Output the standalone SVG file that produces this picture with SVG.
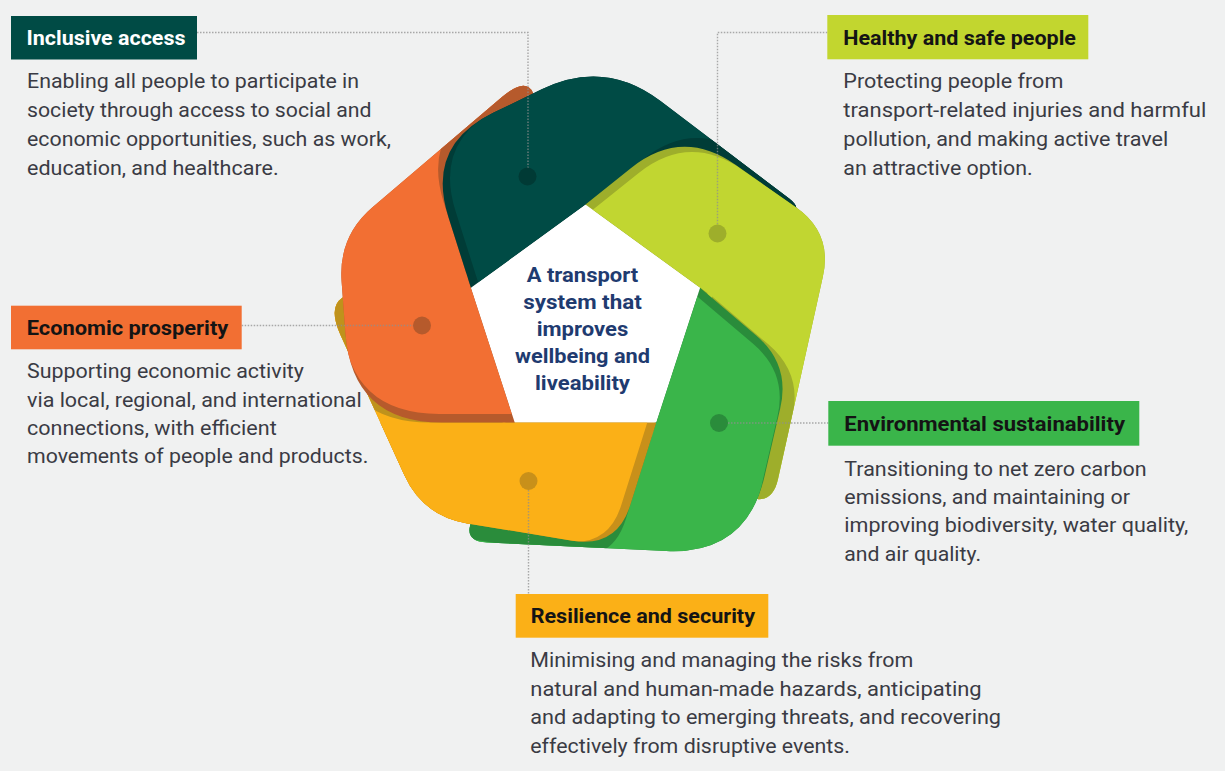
<svg xmlns="http://www.w3.org/2000/svg" width="1225" height="771" viewBox="0 0 1225 771">
<style>
.body{font-family:Roboto,"Liberation Sans",sans-serif;font-size:20px;fill:#3a3b44;}
.title{font-family:Roboto,"Liberation Sans",sans-serif;font-size:20px;font-weight:700;fill:#141414;}
.tw{fill:#ffffff;}
.center{font-family:Roboto,"Liberation Sans",sans-serif;font-size:20.5px;font-weight:700;fill:#1f3b70;text-anchor:middle;}
.conn{fill:none;stroke:#8f8f8f;stroke-width:1.4;stroke-dasharray:1.5 1.5;opacity:0.75;}
</style>
<defs>
<path id="s0" d="M470.9,287.8 L448.4,217.1 Q425.7,145.6 493.2,112.8 L541.7,89.3 Q604.7,58.7 660.5,101 L789.1,198.5 Q805,210.6 786.5,218.1 L720,245 L585.5,204.5 Z"/>
<path id="s1" d="M585.5,204.5 L631.1,168 Q681.9,127.4 735.1,164.6 L795.7,206.9 Q832.6,232.7 822.9,276.6 L778.1,478.7 Q771.6,508 744.4,495.3 L690,470 L700.1,287.8 Z"/>
<path id="s2" d="M700.1,287.8 L756.2,335.5 Q790.5,364.7 780.2,408.5 L764.4,476.9 Q746.2,554.8 666.3,551 L487,542.5 Q462,541.3 472.6,518.7 L500,460 L656.3,422.5 Z"/>
<path id="s3" d="M656.3,422.5 L630.3,505.1 Q616.8,548 572.4,540.7 L467.3,523.4 Q422.9,516.1 404.3,475.1 L340.7,335.5 Q320,290 369.9,293.1 L400,295 L514.7,422.5 Z"/>
<path id="s4" d="M514.7,422.5 L442,422.5 Q352,422.5 345.4,332.7 L341.6,281.4 Q338.3,236.5 372.5,207.3 L501.7,97.2 Q536,68 536,113 L536,180 L470.9,287.8 Z"/>
<clipPath id="c0"><use href="#s0"/></clipPath>
<clipPath id="c1"><use href="#s1"/></clipPath>
<clipPath id="c2"><use href="#s2"/></clipPath>
<clipPath id="c3"><use href="#s3"/></clipPath>
<clipPath id="c4"><use href="#s4"/></clipPath>
<clipPath id="cLow"><rect x="0" y="423" width="1225" height="348"/></clipPath>
</defs>
<rect width="1225" height="771" fill="#f0f1f1"/>
<g id="wheel">
<path id="hub" d="M585.5,204.5 L700.1,287.8 L656.3,422.5 L514.7,422.5 L470.9,287.8 Z" fill="#ffffff"/>
<g id="seg-resilience">
<use href="#s3" fill="#c8901a"/>
<g clip-path="url(#c3)">
<use href="#s3" fill="#fbb017" transform="translate(-9,0)"/>
<use href="#s4" fill="#bf921c" transform="translate(-12,0)"/>
</g>
</g>
<g id="seg-economic">
<use href="#s4" fill="#b65a2c"/>
<g clip-path="url(#c4)">
<use href="#s4" fill="#f26f33" transform="translate(-2.8,-8.6)"/>
<use href="#s0" fill="#b65a2c" transform="translate(-4.6,-14.3)"/>
</g>
</g>
<g id="seg-inclusive">
<use href="#s0" fill="#003c37"/>
<g clip-path="url(#c0)">
<use href="#s0" fill="#004b45" transform="translate(7.3,-5.3)"/>
<use href="#s1" fill="#003c37" transform="translate(12.1,-8.8)"/>
</g>
</g>
<g id="seg-healthy">
<use href="#s1" fill="#9eae2b"/>
<g clip-path="url(#c1)">
<use href="#s1" fill="#c1d631" transform="translate(7.3,5.3)"/>
<use href="#s2" fill="#9eae2b" transform="translate(12.1,8.8)"/>
</g>
</g>
<g id="seg-environmental">
<use href="#s2" fill="#2a8c3b"/>
<g clip-path="url(#c2)">
<use href="#s2" fill="#3ab54a" transform="translate(-2.8,8.6)"/>
<use href="#s3" fill="#2a8c3b" transform="translate(-4.6,14.3)"/>
</g>
</g>
<g id="seg-resilience-top" clip-path="url(#cLow)">
<use href="#s3" fill="#c8901a"/>
<g clip-path="url(#c3)">
<use href="#s3" fill="#fbb017" transform="translate(-9,0)"/>
</g>
</g>
</g>
<g id="connectors">
<path class="conn" d="M197,32.5 H528 V176.5"/>
<path class="conn" d="M827.3,32.5 H717.5 V233.5"/>
<path class="conn" d="M241.7,325.5 H422"/>
<path class="conn" d="M719,423 H828.3"/>
<path class="conn" d="M528.5,481 V594"/>
<circle cx="527.5" cy="176.5" r="9" fill="#003a35"/>
<circle cx="717.5" cy="233.5" r="9" fill="#9eae2b"/>
<circle cx="422" cy="325.5" r="9" fill="#b65a2c"/>
<circle cx="719" cy="423" r="9" fill="#2a8c3b"/>
<circle cx="528.5" cy="481" r="9" fill="#c8901a"/>
</g>
<g id="node-center">
<text class="center" x="582.5" y="281.5" textLength="111.6" lengthAdjust="spacingAndGlyphs">A transport</text>
<text class="center" x="582.5" y="308.5" textLength="118.7" lengthAdjust="spacingAndGlyphs">system that</text>
<text class="center" x="582.5" y="335.5" textLength="91.6" lengthAdjust="spacingAndGlyphs">improves</text>
<text class="center" x="582.5" y="362.5" textLength="135" lengthAdjust="spacingAndGlyphs">wellbeing and</text>
<text class="center" x="582.5" y="389.5" textLength="95" lengthAdjust="spacingAndGlyphs">liveability</text>
</g>
<g id="node-inclusive">
<rect x="11" y="16" width="186" height="43.5" fill="#004b45"/>
<text class="title tw" x="26.5" y="45" textLength="159" lengthAdjust="spacingAndGlyphs">Inclusive access</text>
<text class="body" x="27" y="88.3" textLength="332" lengthAdjust="spacingAndGlyphs">Enabling all people to participate in</text>
<text class="body" x="27" y="117.2" textLength="344.5" lengthAdjust="spacingAndGlyphs">society through access to social and</text>
<text class="body" x="27" y="146.1" textLength="364" lengthAdjust="spacingAndGlyphs">economic opportunities, such as work,</text>
<text class="body" x="27" y="175" textLength="251.6" lengthAdjust="spacingAndGlyphs">education, and healthcare.</text>
</g>
<g id="node-healthy">
<rect x="827.3" y="15" width="261" height="44.3" fill="#c2d62f"/>
<text class="title" x="843.3" y="45" textLength="232.7" lengthAdjust="spacingAndGlyphs">Healthy and safe people</text>
<text class="body" x="843.3" y="88.3" textLength="220" lengthAdjust="spacingAndGlyphs">Protecting people from</text>
<text class="body" x="843.3" y="117.2" textLength="363" lengthAdjust="spacingAndGlyphs">transport-related injuries and harmful</text>
<text class="body" x="843.3" y="146.1" textLength="325" lengthAdjust="spacingAndGlyphs">pollution, and making active travel</text>
<text class="body" x="843.3" y="175" textLength="189.4" lengthAdjust="spacingAndGlyphs">an attractive option.</text>
</g>
<g id="node-economic">
<rect x="11" y="305.7" width="230.7" height="43.6" fill="#f26f33"/>
<text class="title" x="26.7" y="335" textLength="201.6" lengthAdjust="spacingAndGlyphs">Economic prosperity</text>
<text class="body" x="27" y="378.3" textLength="277" lengthAdjust="spacingAndGlyphs">Supporting economic activity</text>
<text class="body" x="27" y="406.7" textLength="334.7" lengthAdjust="spacingAndGlyphs">via local, regional, and international</text>
<text class="body" x="27" y="435" textLength="249.7" lengthAdjust="spacingAndGlyphs">connections, with efficient</text>
<text class="body" x="27" y="463.3" textLength="341.3" lengthAdjust="spacingAndGlyphs">movements of people and products.</text>
</g>
<g id="node-environmental">
<rect x="828.3" y="401" width="311" height="44.7" fill="#3ab54a"/>
<text class="title" x="844.3" y="431" textLength="280.7" lengthAdjust="spacingAndGlyphs">Environmental sustainability</text>
<text class="body" x="844.3" y="475.7" textLength="302.4" lengthAdjust="spacingAndGlyphs">Transitioning to net zero carbon</text>
<text class="body" x="844.3" y="504.3" textLength="285.7" lengthAdjust="spacingAndGlyphs">emissions, and maintaining or</text>
<text class="body" x="844.3" y="532.3" textLength="344" lengthAdjust="spacingAndGlyphs">improving biodiversity, water quality,</text>
<text class="body" x="844.3" y="561" textLength="136.7" lengthAdjust="spacingAndGlyphs">and air quality.</text>
</g>
<g id="node-resilience">
<rect x="515.7" y="594" width="252.6" height="43.7" fill="#fbb017"/>
<text class="title" x="530.7" y="623.3" textLength="224.3" lengthAdjust="spacingAndGlyphs">Resilience and security</text>
<text class="body" x="530.3" y="667.3" textLength="383" lengthAdjust="spacingAndGlyphs">Minimising and managing the risks from</text>
<text class="body" x="530.3" y="696" textLength="451.4" lengthAdjust="spacingAndGlyphs">natural and human-made hazards, anticipating</text>
<text class="body" x="530.3" y="724" textLength="470.7" lengthAdjust="spacingAndGlyphs">and adapting to emerging threats, and recovering</text>
<text class="body" x="530.3" y="752.7" textLength="319.7" lengthAdjust="spacingAndGlyphs">effectively from disruptive events.</text>
</g>
</svg>
